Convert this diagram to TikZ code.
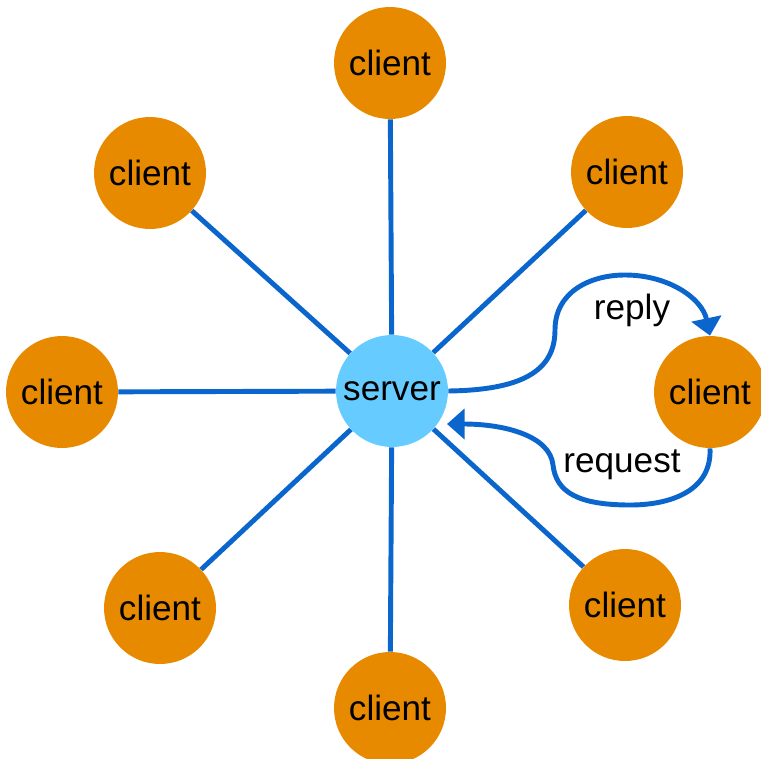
\documentclass[tikz,border=0pt]{standalone}
\usepackage{fontspec}
\setmainfont{Liberation Sans}
\usetikzlibrary{arrows.meta}
\definecolor{clientorange}{RGB}{232,138,0}
\definecolor{serverblue}{RGB}{102,204,255}
\definecolor{linkblue}{RGB}{10,102,204}
\tikzset{
    host/.style={circle, minimum size=2.24cm, inner sep=0pt, font=\fontsize{20}{24}\selectfont},
    client/.style={host, fill=clientorange},
    server/.style={host, fill=serverblue},
    link/.style={linkblue, line width=2.8pt},
    msg/.style={link, -{Triangle[width=17pt,length=10pt]}},
}
\begin{document}
\begin{tikzpicture}[x=0.02cm, y=-0.02cm]
    \useasboundingbox (0,0) rectangle (761,758);

    \node[server] (S) at (392,391) {server};

    \node[client] (N)  at (390,63)  {client};
    \node[client] (NW) at (150,173) {client};
    \node[client] (NE) at (627,172) {client};
    \node[client] (W)  at (62,392)  {client};
    \node[client] (E)  at (710,392) {client};
    \node[client] (SW) at (160,608) {client};
    \node[client] (SE) at (625,605) {client};
    \node[client] (B)  at (390,708) {client};

    \draw[link] (S) -- (N);
    \draw[link] (S) -- (NW);
    \draw[link] (S) -- (NE);
    \draw[link] (S) -- (W);
    \draw[link] (S) -- (SW);
    \draw[link] (S) -- (SE);
    \draw[link] (S) -- (B);

    % reply goes over the top, request comes back underneath
    \draw[msg] (S.east) .. controls (520,390) and (555,372) .. (555,330)
        .. controls (555,292) and (590,275) .. (625,275)
        .. controls (668,275) and (702,298) .. (E.north);
    \draw[msg] (E.south) .. controls (712,490) and (672,505) .. (630,505)
        .. controls (578,505) and (556,492) .. (553,465)
        .. controls (550,436) and (505,424) .. (447,424);

    \node at (632,310) {\fontsize{20}{24}\selectfont reply};
    \node at (622,465) {\fontsize{20}{24}\selectfont request};
\end{tikzpicture}
\end{document}
